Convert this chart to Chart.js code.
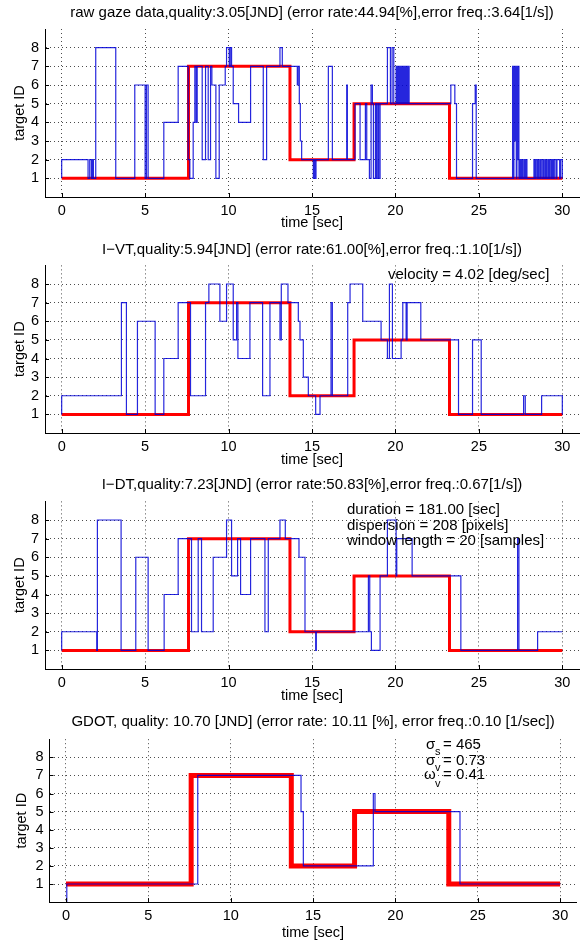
<!DOCTYPE html>
<html>
<head>
<meta charset="utf-8">
<script src="https://cdn.jsdelivr.net/npm/chart.js@4.4.1/dist/chart.umd.min.js"></script>
<style>
html, body { margin: 0; padding: 0; background: #fff; }
.panel { position: absolute; left: 0; width: 581px; }
</style>
</head>
<body>
<div class="panel" style="top:0px"><canvas id="c1" width="581" height="235"></canvas></div>
<div class="panel" style="top:235px"><canvas id="c2" width="581" height="235"></canvas></div>
<div class="panel" style="top:470px"><canvas id="c3" width="581" height="235"></canvas></div>
<div class="panel" style="top:705px"><canvas id="c4" width="581" height="238"></canvas></div>
<script>
// ground truth target (red)
var truthT = [0, 7.6, 13.68, 17.52, 23.24, 30];
var truthId = [1, 7, 2, 5, 1, 1];

// raw gaze data
var rawT = [0, 0, 1.58, 1.68, 1.78, 1.84, 1.9, 2.04, 3.24, 4.38, 5.0, 5.08, 5.18, 6.12, 6.98,
  7.58, 7.68, 7.88, 7.98, 8.06, 8.12, 8.42, 8.62, 8.78, 8.92, 9.0, 9.24, 9.44, 9.8, 9.88,
  10.04, 10.1, 10.18, 10.28, 10.6, 11.32, 12.08, 12.28, 13.08, 13.22, 14.12, 14.16, 14.24, 14.3, 14.38,
  15.08, 15.14, 15.18, 15.24, 15.98, 16.22, 17.08, 17.12, 17.58, 17.88, 18.2, 18.28, 18.44, 18.54, 18.62,
  18.68, 18.8, 18.86, 18.94, 19.0, 19.08, 19.52, 19.7, 19.8, 19.9, 20.04, 20.1, 20.14, 20.2, 20.24,
  20.3, 20.34, 20.4, 20.44, 20.5, 20.56, 20.62, 20.66, 20.72, 20.78, 20.82, 23.32, 23.56, 23.66, 24.62,
  24.78, 24.84, 27.02, 27.06, 27.1, 27.14, 27.2, 27.24, 27.28, 27.32, 27.36, 27.4, 27.46, 27.52, 27.58,
  27.64, 27.72, 27.78, 27.84, 27.88, 28.3, 28.36, 28.42, 28.5, 28.56, 28.62, 28.7, 28.78, 28.86, 28.92,
  29.0, 29.06, 29.14, 29.2, 29.26, 29.34, 29.4, 29.46, 29.52, 29.62, 29.68, 29.84, 29.9, 30];
var rawId = [1, 2, 1, 2, 1, 2, 1, 8, 1, 6, 1, 6, 1, 4, 7,
  2, 1, 4, 7, 4, 7, 2, 7, 2, 7, 6, 1, 6, 7, 8,
  7, 8, 7, 5, 4, 7, 2, 7, 8, 7, 6, 7, 5, 3, 2,
  1, 2, 1, 2, 7, 2, 6, 2, 5, 2, 5, 2, 1, 6, 5,
  1, 5, 1, 5, 1, 5, 8, 5, 8, 5, 7, 5, 7, 5, 7,
  5, 7, 5, 7, 5, 7, 5, 7, 5, 7, 5, 6, 5, 1, 5,
  6, 1, 7, 1, 7, 3, 7, 1, 7, 2, 7, 1, 2, 1, 2,
  1, 2, 1, 2, 1, 2, 1, 2, 1, 2, 1, 2, 1, 2, 1,
  2, 1, 2, 1, 2, 1, 2, 1, 2, 1, 2, 1, 2, 1];

// I-VT
var ivtT = [0, 0, 3.58, 3.88, 4.54, 5.6, 6.12, 6.98, 7.72, 8.62, 8.82, 9.48, 9.88, 10.28, 10.48,
  10.56, 11.28, 12.04, 12.48, 13.08, 13.16, 13.56, 14.18, 14.28, 14.48, 14.78, 15.22, 15.48, 16.14, 16.22,
  17.14, 17.28, 18.04, 19.14, 19.52, 19.64, 19.82, 20.34, 20.44, 20.64, 20.7, 21.52, 23.78, 24.62, 25.14,
  27.68, 27.78, 28.76, 30, 30];
var ivtId = [1, 2, 7, 1, 6, 1, 4, 7, 2, 7, 8, 6, 8, 5, 7,
  4, 7, 2, 7, 5, 8, 7, 6, 5, 3, 2, 1, 2, 7, 2,
  7, 8, 6, 5, 4, 8, 4, 5, 7, 5, 7, 5, 1, 5, 1,
  2, 1, 2, 2, 1];

// I-DT
var idtT = [0, 0, 2.1, 2.14, 3.56, 4.44, 5.18, 6.14, 6.98, 7.78, 8.18, 8.38, 9.08, 9.88, 10.18,
  10.54, 10.72, 11.32, 12.18, 12.38, 13.08, 13.4, 14.22, 14.58, 15.22, 15.26, 18.38, 18.46, 18.56, 19.08,
  19.52, 20.04, 20.08, 21.0, 23.92, 27.32, 27.4, 28.52, 30];
var idtId = [1, 2, 1, 8, 1, 6, 1, 4, 7, 2, 7, 2, 6, 8, 5,
  7, 4, 7, 2, 7, 8, 7, 6, 2, 1, 2, 5, 2, 1, 5,
  8, 5, 7, 5, 1, 7, 1, 2, 2];

// GDOT
var gdotT = [0.05, 0.05, 8.0, 14.27, 14.41, 18.66, 18.76, 23.92, 30];
var gdotId = [0, 1, 7, 5, 2, 6, 5, 1, 1];

var xTicks = [0, 5, 10, 15, 20, 25, 30];
var yTicks = [1, 2, 3, 4, 5, 6, 7, 8];

var titles = [
  'raw gaze data,quality:3.05[JND] (error rate:44.94[%],error freq.:3.64[1/s])',
  'I\u2212VT,quality:5.94[JND] (error rate:61.00[%],error freq.:1.10[1/s])',
  'I\u2212DT,quality:7.23[JND] (error rate:50.83[%],error freq.:0.67[1/s])',
  'GDOT, quality: 10.70 [JND] (error rate: 10.11 [%], error freq.:0.10 [1/sec])'
];

var FONT = '"Liberation Sans", Arial, Helvetica, sans-serif';

function pts(t, v) {
  return t.map(function (x, i) { return { x: x, y: v[i] }; });
}

// title, notes and inward tick marks
var panelText = {
  id: 'panelText',
  afterDraw: function (chart) {
    var c = chart.options.plugins.panelText;
    var ctx = chart.ctx;
    var a = chart.chartArea;
    var xs = chart.scales.x, ys = chart.scales.y;
    ctx.save();
    ctx.strokeStyle = '#000';
    ctx.lineWidth = 1;
    ctx.beginPath();
    xTicks.forEach(function (v) {
      var px = Math.round(xs.getPixelForValue(v)) + 0.5;
      ctx.moveTo(px, a.bottom); ctx.lineTo(px, a.bottom - 4);
    });
    yTicks.forEach(function (v) {
      var py = Math.round(ys.getPixelForValue(v)) + 0.5;
      ctx.moveTo(a.left, py); ctx.lineTo(a.left + 4, py);
    });
    ctx.stroke();

    ctx.fillStyle = '#000';
    ctx.textBaseline = 'middle';
    ctx.textAlign = 'center';
    ctx.font = '15px ' + FONT;
    ctx.fillText(c.title, (a.left + a.right) / 2, c.titleY);
    ctx.textAlign = 'left';
    c.notes.forEach(function (n) {
      ctx.font = (n.size || 15) + 'px ' + FONT;
      ctx.fillText(n.text, n.x, n.y);
    });
    ctx.restore();
  }
};

function makeChart(id, blueT, blueId, cfg) {
  return new Chart(document.getElementById(id), {
    type: 'scatter',
    data: {
      datasets: [
        { data: pts(truthT, truthId), showLine: true, stepped: true, borderColor: '#ff0000',
          borderWidth: cfg.redW, pointRadius: 0, order: 2 },
        { data: pts(blueT, blueId), showLine: true, stepped: true, borderColor: 'rgba(0,0,215,0.85)',
          borderWidth: 1.2, pointRadius: 0, order: 1 }
      ]
    },
    options: {
      responsive: false,
      animation: false,
      layout: { padding: { top: cfg.areaTop, right: 581 - cfg.right, bottom: 0, left: 0 } },
      plugins: {
        legend: { display: false },
        tooltip: { enabled: false },
        panelText: { title: cfg.title, titleY: cfg.titleY, notes: cfg.notes }
      },
      scales: {
        x: {
          type: 'linear', min: -1, max: 31,
          afterBuildTicks: function (s) { s.ticks = xTicks.map(function (v) { return { value: v }; }); },
          afterFit: function (s) { s.height = cfg.h - cfg.areaBottom; },
          grid: { color: 'rgba(0,0,0,0.7)', drawTicks: false },
          border: { color: '#000', width: 1, dash: [1, 3] },
          ticks: { color: '#000', font: { family: FONT, size: 14.5 }, padding: 5, maxRotation: 0, autoSkip: false },
          title: { display: true, text: 'time [sec]', color: '#000',
                   font: { family: FONT, size: 14.5, lineHeight: 1 }, padding: { top: 0, bottom: cfg.xlabPad } }
        },
        y: {
          type: 'linear', min: 0, max: 9,
          afterBuildTicks: function (s) { s.ticks = yTicks.map(function (v) { return { value: v }; }); },
          afterFit: function (s) { s.width = cfg.left; },
          grid: { color: 'rgba(0,0,0,0.7)', drawTicks: false },
          border: { color: '#000', width: 1, dash: [1, 3] },
          ticks: { color: '#000', font: { family: FONT, size: 14.5 }, padding: 6, autoSkip: false },
          title: { display: true, text: 'target ID', color: '#000',
                   font: { family: FONT, size: 14.5, lineHeight: 1 }, padding: { top: cfg.ylabPad, bottom: 0 } }
        }
      }
    },
    plugins: [panelText]
  });
}

makeChart('c1', rawT, rawId, {
  h: 235, areaTop: 29, areaBottom: 197, left: 45, right: 579, redW: 3,
  title: titles[0], titleY: 13.3, xlabPad: 4.5, ylabPad: 13, notes: []
});
makeChart('c2', ivtT, ivtId, {
  h: 235, areaTop: 30.4, areaBottom: 198, left: 45, right: 579, redW: 3,
  title: titles[1], titleY: 15, xlabPad: 2.5, ylabPad: 13,
  notes: [{ text: 'velocity = 4.02 [deg/sec]', x: 388, y: 40 }]
});
makeChart('c3', idtT, idtId, {
  h: 235, areaTop: 31.4, areaBottom: 199, left: 45, right: 579, redW: 3,
  title: titles[2], titleY: 15, xlabPad: 1.5, ylabPad: 13,
  notes: [
    { text: 'duration = 181.00 [sec]', x: 347, y: 40 },
    { text: 'dispersion = 208 [pixels]', x: 347, y: 55.5 },
    { text: 'window length = 20 [samples]', x: 347, y: 71 }
  ]
});
makeChart('c4', gdotT, gdotId, {
  h: 238, areaTop: 34.2, areaBottom: 197.1, left: 49.5, right: 576.6, redW: 5,
  title: titles[3], titleY: 16.7, xlabPad: 2.7, ylabPad: 15,
  notes: [
    { text: '\u03c3', x: 426, y: 40 }, { text: 's', x: 435, y: 47, size: 11 }, { text: '= 465', x: 443, y: 40 },
    { text: '\u03c3', x: 426, y: 55.7 }, { text: 'v', x: 435, y: 63, size: 11 }, { text: '= 0.73', x: 443, y: 55.7 },
    { text: '\u03c9', x: 424, y: 70 }, { text: 'v', x: 435, y: 79, size: 11 }, { text: '= 0.41', x: 443, y: 70 }
  ]
});
</script>
</body>
</html>
